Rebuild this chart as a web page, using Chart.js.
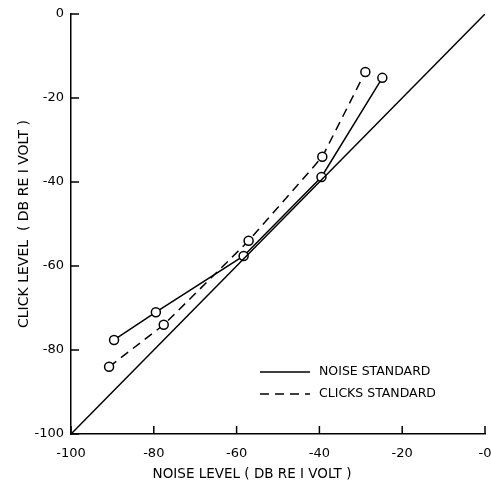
<!DOCTYPE html>
<html>
<head>
<meta charset="utf-8">
<script src="https://cdn.jsdelivr.net/npm/chart.js@4/dist/chart.umd.min.js"></script>
<style>
  html, body { margin: 0; padding: 0; background: #fff; }
  #wrap { width: 491px; height: 487px; }
</style>
</head>
<body>
<div id="wrap"><canvas id="clickChart" width="491" height="487"></canvas></div>
<script>
// axis ticks
const ticksX = [-100, -80, -60, -40, -20, 0];
const ticksY = [-100, -80, -60, -40, -20, 0];
const xTickLabels = ['-100', '-80', '-60', '-40', '-20', '-0'];
const yTickLabels = ['-100', '-80', '-60', '-40', '-20', '0'];

// equal-level reference line
const equalX = [-100, 0];
const equalY = [-100, 0];

// noise standard (solid)
const noiseX = [-89.6, -79.5, -58.3, -39.5, -24.8];
const noiseY = [-77.6, -71.0, -57.6, -38.8, -15.2];

// clicks standard (dashed)
const clicksX = [-90.8, -77.6, -57.1, -39.3, -28.9];
const clicksY = [-84.0, -74.0, -54.0, -34.0, -13.8];

const xTitle = 'NOISE LEVEL ( DB RE I VOLT )';
const yTitle = 'CLICK LEVEL  ( DB RE I VOLT )';

const toPoints = (xs, ys) => xs.map((v, i) => ({ x: v, y: ys[i] }));

// inward tick marks, legend box and x title
const decorations = {
    id: 'decorations',
    afterDraw(chart) {
        const { ctx, chartArea: a, scales: { x, y } } = chart;
        ctx.save();
        ctx.strokeStyle = '#000';
        ctx.lineWidth = 1.5;
        ctx.beginPath();
        ticksX.forEach(v => {
            const px = x.getPixelForValue(v);
            ctx.moveTo(px, a.bottom);
            ctx.lineTo(px, a.bottom - 8);
        });
        ticksY.forEach(v => {
            const py = y.getPixelForValue(v);
            ctx.moveTo(a.left, py);
            ctx.lineTo(a.left + 8, py);
        });
        ctx.stroke();

        // legend
        const entries = chart.data.datasets.filter(d => d.inLegend);
        ctx.font = '12.5px "DejaVu Sans"';
        ctx.textAlign = 'left';
        ctx.textBaseline = 'middle';
        ctx.fillStyle = '#000';
        entries.forEach((d, i) => {
            const ly = a.bottom - 62 + i * 22;
            ctx.setLineDash(d.borderDash || []);
            ctx.beginPath();
            ctx.moveTo(a.left + 189, ly);
            ctx.lineTo(a.left + 239, ly);
            ctx.stroke();
            ctx.setLineDash([]);
            ctx.fillText(d.label, a.left + 248, ly);
        });

        // x axis title
        ctx.font = '13.5px "DejaVu Sans"';
        ctx.textAlign = 'center';
        ctx.fillText(xTitle, a.left + 181, 474);
        ctx.restore();
    }
};

new Chart(document.getElementById('clickChart').getContext('2d'), {
    type: 'scatter',
    data: {
        datasets: [
            {
                label: 'EQUAL',
                data: toPoints(equalX, equalY),
                showLine: true,
                borderColor: '#000',
                borderWidth: 1.5,
                pointRadius: 0,
                inLegend: false
            },
            {
                label: 'NOISE STANDARD',
                data: toPoints(noiseX, noiseY),
                showLine: true,
                borderColor: '#000',
                borderWidth: 1.5,
                pointRadius: 4.5,
                pointBorderWidth: 1.5,
                pointBackgroundColor: '#fff',
                pointBorderColor: '#000',
                inLegend: true
            },
            {
                label: 'CLICKS STANDARD',
                data: toPoints(clicksX, clicksY),
                showLine: true,
                borderColor: '#000',
                borderWidth: 1.5,
                borderDash: [9, 6],
                pointRadius: 4.5,
                pointBorderWidth: 1.5,
                pointBackgroundColor: '#fff',
                pointBorderColor: '#000',
                inLegend: true
            }
        ]
    },
    options: {
        responsive: false,
        animation: false,
        layout: { padding: { top: 14, right: 5, left: 0, bottom: 0 } },
        plugins: {
            legend: { display: false },
            tooltip: { enabled: false }
        },
        scales: {
            x: {
                type: 'linear',
                min: -100,
                max: 0,
                afterBuildTicks: s => { s.ticks = ticksX.map(v => ({ value: v })); },
                afterFit: s => { s.height = 53; s.paddingLeft = 0; s.paddingRight = 0; },
                grid: { display: false, drawTicks: false },
                border: { display: true, color: '#000', width: 1.5 },
                ticks: {
                    color: '#000',
                    padding: 12,
                    maxRotation: 0,
                    font: { family: 'DejaVu Sans', size: 13 },
                    callback: (v, i) => xTickLabels[i]
                }
            },
            y: {
                type: 'linear',
                min: -100,
                max: 0,
                afterBuildTicks: s => { s.ticks = ticksY.map(v => ({ value: v })); },
                afterFit: s => { s.width = 71; s.paddingTop = 0; s.paddingBottom = 0; },
                grid: { display: false, drawTicks: false },
                border: { display: true, color: '#000', width: 1.5 },
                title: {
                    display: true,
                    text: yTitle,
                    color: '#000',
                    font: { family: 'DejaVu Sans', size: 14 },
                    padding: { top: 16, bottom: 0 }
                },
                ticks: {
                    color: '#000',
                    padding: 7,
                    font: { family: 'DejaVu Sans', size: 13 },
                    callback: (v, i) => yTickLabels[i]
                }
            }
        }
    },
    plugins: [decorations]
});
</script>
</body>
</html>
